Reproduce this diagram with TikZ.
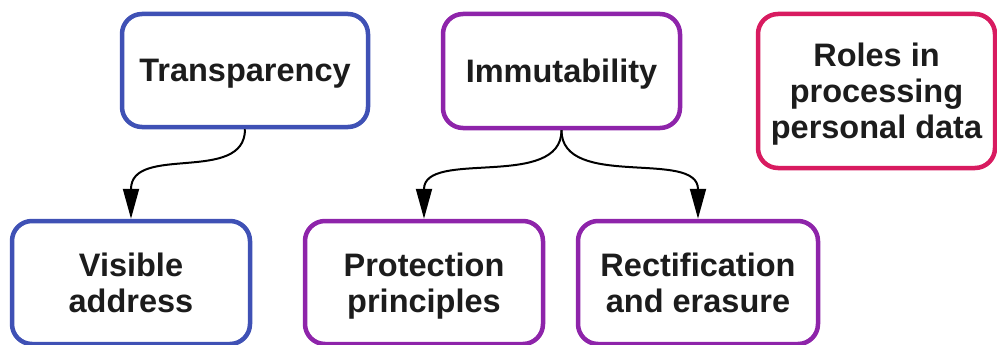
\documentclass[tikz,border=0pt]{standalone}
\usepackage{fontspec}
\setmainfont{Liberation Sans}
\usetikzlibrary{arrows.meta}

\definecolor{boxblue}{HTML}{3F51B5}
\definecolor{boxpurple}{HTML}{8E24AA}
\definecolor{boxpink}{HTML}{D81B60}
\definecolor{inktext}{HTML}{1C1C1C}

\tikzset{
  card/.style={draw=#1, line width=4.5pt, rounded corners=20pt, fill=white,
    inner sep=0pt, align=center, text=inktext, text depth=0pt,
    font=\bfseries\fontsize{32.5}{36}\selectfont},
  link/.style={line width=2pt, black, -{Triangle[length=30pt,width=16pt]}}
}

\begin{document}
\begin{tikzpicture}[x=1pt,y=-1pt]
  \useasboundingbox (0,0) rectangle (997,345);

  % upper row
  \node[card=boxblue, minimum width=246pt, minimum height=113pt] (T) at (245,70.5) {Transparency};
  \node[card=boxpurple, minimum width=237pt, minimum height=114pt] (I) at (561.5,71) {Immutability};
  \node[card=boxpink, minimum width=237pt, minimum height=154pt] (R) at (876.5,91) {Roles in\\processing\\personal data};

  % lower row
  \node[card=boxblue, minimum width=238pt, minimum height=123pt] (V) at (131,282.5) {Visible\\address};
  \node[card=boxpurple, minimum width=238pt, minimum height=123pt] (P) at (424,282.5) {Protection\\principles};
  \node[card=boxpurple, minimum width=240pt, minimum height=123pt] (E) at (698,282.5) {Rectification\\and erasure};

  % connectors
  \draw[link] (T.south) .. controls +(0,55) and +(0,-75) .. (V.north);
  \draw[link] (I.south) .. controls +(0,60) and +(0,-70) .. (P.north);
  \draw[link] (I.south) .. controls +(0,60) and +(0,-70) .. (E.north);
\end{tikzpicture}
\end{document}
